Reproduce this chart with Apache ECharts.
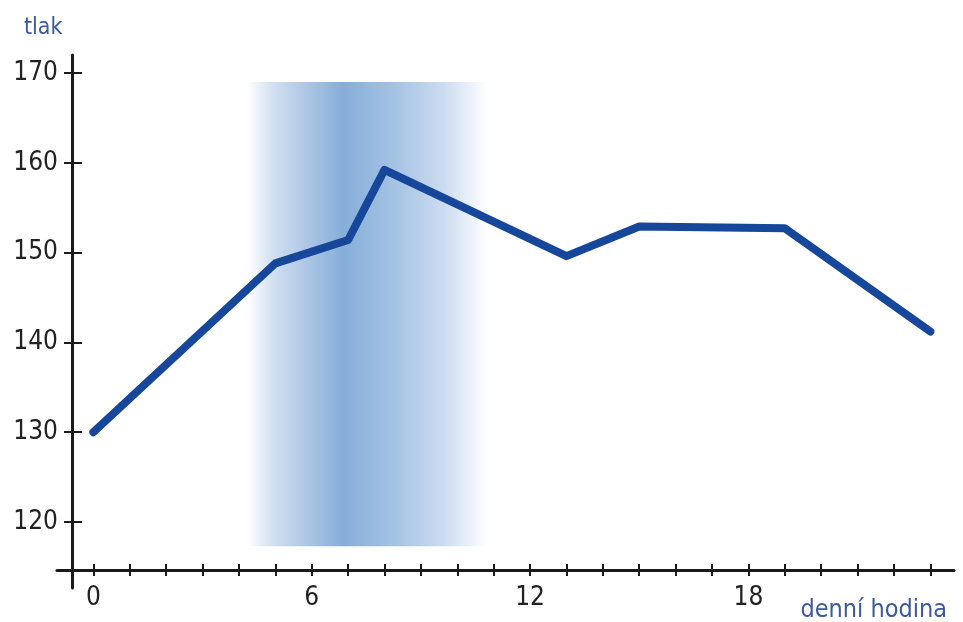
<!DOCTYPE html>
<html>
<head>
<meta charset="utf-8">
<script src="https://cdn.jsdelivr.net/npm/echarts@6/dist/echarts.min.js"></script>
<style>
html,body{margin:0;padding:0;background:#fff;}
#c{width:963px;height:622px;}
</style>
</head>
<body>
<div id="c"></div>
<script>
// ---- data ----
var hours = [0, 5, 7, 8, 13, 15, 19, 23];
var pressure = [130, 148.8, 151.4, 159.2, 149.6, 152.9, 152.7, 141.2];
var xTickValues = [0,1,2,3,4,5,6,7,8,9,10,11,12,13,14,15,16,17,18,19,20,21,22,23];
var xLabelValues = [0, 6, 12, 18];
var yTickValues = [120, 130, 140, 150, 160, 170];
var bandHours = [4.23, 10.82];
var bandPressure = [117.3, 169];

var FONT = '"Liberation Sans Narrow", "DejaVu Sans Condensed", "Liberation Sans", sans-serif';
var AX = '#1a1a1a';

var chart = echarts.init(document.getElementById('c'));

var gridX = {left: 57, right: 9, top: 55, bottom: 52, containLabel: false, outerBoundsMode: 'none'};
var gridY = {left: 72, right: 9, top: 55, bottom: 34, containLabel: false, outerBoundsMode: 'none'};
var gridYR = {left: 0, width: 72, top: 55, bottom: 34, containLabel: false, outerBoundsMode: 'none'};

var option = {
  animation: false,
  backgroundColor: '#ffffff',
  title: [
    {text: 'tlak', left: 19, top: 12,
     textStyle: {fontFamily: FONT, fontSize: 23, fontWeight: 'normal', color: '#3d5a9e'}},
    {text: 'denní hodina', right: 11, top: 593,
     textStyle: {fontFamily: FONT, fontSize: 25, fontWeight: 'normal', color: '#3d5a9e'}}
  ],
  grid: [
    Object.assign({}, gridX),
    Object.assign({}, gridX),
    Object.assign({}, gridY),
    Object.assign({}, gridYR)
  ],
  xAxis: [
    {gridIndex: 0, type: 'value', min: -1, max: 23.65,
     axisLine: {show: true, onZero: false, lineStyle: {color: AX, width: 3}},
     axisTick: {show: true, inside: false, length: 6, lineStyle: {color: AX, width: 2}, customValues: xTickValues},
     axisLabel: {show: true, customValues: xLabelValues, fontFamily: FONT, fontSize: 26, color: '#222', margin: 15},
     splitLine: {show: false}},
    {gridIndex: 1, type: 'value', min: -1, max: 23.65,
     axisLine: {show: false, onZero: false},
     axisTick: {show: true, inside: true, length: 6, lineStyle: {color: AX, width: 2}, customValues: xTickValues},
     axisLabel: {show: false},
     splitLine: {show: false}},
    {gridIndex: 2, type: 'value', min: -1, max: 23.65, show: false, axisLine: {onZero: false}},
    {gridIndex: 3, type: 'value', min: 0, max: 1, show: false, axisLine: {onZero: false}}
  ],
  yAxis: [
    {gridIndex: 0, type: 'value', min: 114.65, max: 172, show: false, axisLine: {onZero: false}, splitLine: {show: false}},
    {gridIndex: 1, type: 'value', min: 114.65, max: 172, show: false, axisLine: {onZero: false}, splitLine: {show: false}},
    {gridIndex: 2, type: 'value', min: 112.65, max: 172,
     axisLine: {show: true, onZero: false, lineStyle: {color: AX, width: 3}},
     axisTick: {show: true, inside: false, length: 8, lineStyle: {color: AX, width: 2}, customValues: yTickValues},
     axisLabel: {show: true, customValues: yTickValues, fontFamily: FONT, fontSize: 26, color: '#222', margin: 14},
     splitLine: {show: false}},
    {gridIndex: 3, type: 'value', min: 112.65, max: 172, position: 'right',
     axisLine: {show: false, onZero: false},
     axisTick: {show: true, inside: false, length: 10, lineStyle: {color: AX, width: 2}, customValues: yTickValues},
     axisLabel: {show: false},
     splitLine: {show: false}}
  ],
  series: [
    {
      type: 'line',
      xAxisIndex: 0, yAxisIndex: 0,
      data: hours.map(function (h, i) { return [h, pressure[i]]; }),
      symbol: 'none',
      lineStyle: {color: '#16479a', width: 8, join: 'round', cap: 'round'},
      z: 5,
      markArea: {
        silent: true,
        itemStyle: {
          color: new echarts.graphic.LinearGradient(0, 0, 1, 0, [
            {offset: 0.0, color: 'rgba(255,255,255,1)'},
            {offset: 0.1, color: 'rgb(212,225,241)'},
            {offset: 0.25, color: 'rgb(172,197,229)'},
            {offset: 0.4, color: 'rgb(134,174,216)'},
            {offset: 0.46, color: 'rgb(142,180,220)'},
            {offset: 0.62, color: 'rgb(166,195,228)'},
            {offset: 0.82, color: 'rgb(204,220,240)'},
            {offset: 1.0, color: 'rgba(255,255,255,1)'}
          ])
        },
        data: [[
          {coord: [bandHours[0], bandPressure[0]]},
          {coord: [bandHours[1], bandPressure[1]]}
        ]]
      }
    }
  ]
};

chart.setOption(option);
</script>
</body>
</html>
